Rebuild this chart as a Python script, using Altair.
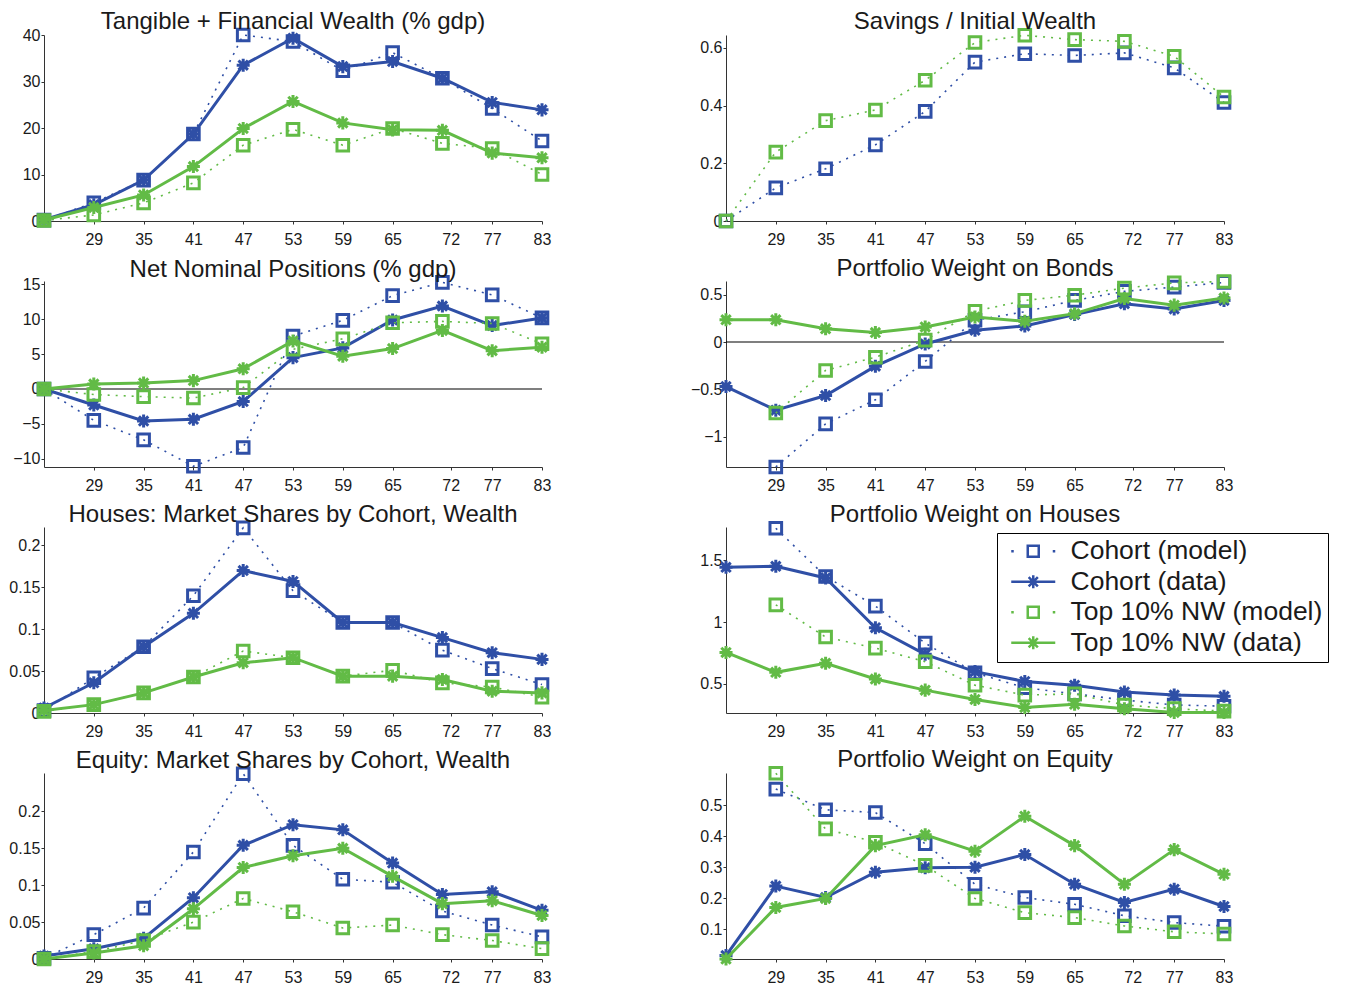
import altair as alt
import pandas as pd

# ---------------- data ----------------
AGES = [23, 29, 35, 41, 47, 53, 59, 65, 71, 77, 83]
X_TICKS = [29, 35, 41, 47, 53, 59, 65, 72, 77, 83]
SERIES = ["Cohort (model)", "Cohort (data)", "Top 10% NW (model)", "Top 10% NW (data)"]
COLORS = ["#2f4fa6", "#2f4fa6", "#62bb46", "#62bb46"]

# Tangible + Financial Wealth (% gdp)
W_COH_MODEL = [0.2, 3.9, 8.8, 18.7, 40.0, 38.6, 32.3, 36.2, 30.7, 24.2, 17.2]
W_COH_DATA = [0.3, 3.5, 8.8, 18.7, 33.5, 39.3, 33.2, 34.3, 30.7, 25.5, 23.9]
W_TOP_MODEL = [0.1, 1.3, 3.9, 8.2, 16.3, 19.7, 16.3, 19.9, 16.7, 15.6, 10.0]
W_TOP_DATA = [0.2, 2.9, 5.6, 11.7, 19.9, 25.7, 21.1, 19.6, 19.5, 14.6, 13.6]
W_TICKS = [0, 10, 20, 30, 40]

# Savings / Initial Wealth
S_COH_MODEL = [0.0, 0.115, 0.181, 0.264, 0.380, 0.551, 0.580, 0.574, 0.583, 0.531, 0.411]
S_TOP_MODEL = [0.0, 0.239, 0.348, 0.385, 0.488, 0.619, 0.644, 0.629, 0.623, 0.571, 0.430]
S_TICKS = [0, 0.2, 0.4, 0.6]

# Net Nominal Positions (% gdp)
N_COH_MODEL = [0.0, -4.5, -7.3, -11.1, -8.4, 7.6, 9.85, 13.4, 15.3, 13.5, 10.2]
N_COH_DATA = [0.0, -2.3, -4.6, -4.35, -1.8, 4.5, 5.9, 9.9, 11.9, 9.1, 10.2]
N_TOP_MODEL = [0.0, -0.8, -1.1, -1.3, 0.2, 5.7, 7.2, 9.5, 9.7, 9.4, 6.5]
N_TOP_DATA = [0.0, 0.7, 0.85, 1.2, 2.9, 6.9, 4.7, 5.8, 8.4, 5.5, 6.0]
N_TICKS = [-10, -5, 0, 5, 10, 15]

# Portfolio Weight on Bonds
B_COH_MODEL = [None, -1.32, -0.865, -0.61, -0.205, 0.23, 0.32, 0.44, 0.535, 0.58, 0.63]
B_COH_DATA = [-0.47, -0.72, -0.565, -0.255, -0.02, 0.125, 0.17, 0.29, 0.405, 0.35, 0.44]
B_TOP_MODEL = [None, -0.75, -0.3, -0.16, 0.02, 0.325, 0.44, 0.495, 0.57, 0.625, 0.64]
B_TOP_DATA = [0.235, 0.235, 0.14, 0.1, 0.16, 0.265, 0.22, 0.3, 0.46, 0.39, 0.465]
B_TICKS = [-1, -0.5, 0, 0.5]

# Houses: Market Shares by Cohort, Wealth
H_COH_MODEL = [0.003, 0.042, 0.079, 0.140, 0.221, 0.146, 0.108, 0.108, 0.075, 0.053, 0.034]
H_COH_DATA = [0.006, 0.036, 0.079, 0.119, 0.170, 0.157, 0.108, 0.108, 0.090, 0.072, 0.064]
H_TOP_MODEL = [0.002, 0.010, 0.024, 0.043, 0.074, 0.066, 0.044, 0.051, 0.036, 0.031, 0.019]
H_TOP_DATA = [0.003, 0.010, 0.024, 0.043, 0.060, 0.066, 0.044, 0.044, 0.040, 0.026, 0.024]
H_TICKS = [0, 0.05, 0.1, 0.15, 0.2]

# Portfolio Weight on Houses
HW_COH_MODEL = [None, 1.76, 1.37, 1.13, 0.83, 0.59, 0.47, 0.42, 0.37, 0.33, 0.32]
HW_COH_DATA = [1.444, 1.452, 1.358, 0.955, 0.74, 0.60, 0.52, 0.49, 0.435, 0.41, 0.40]
HW_TOP_MODEL = [None, 1.14, 0.88, 0.79, 0.68, 0.49, 0.41, 0.42, 0.33, 0.30, 0.28]
HW_TOP_DATA = [0.755, 0.594, 0.667, 0.54, 0.45, 0.375, 0.31, 0.335, 0.30, 0.27, 0.27]
HW_TICKS = [0.5, 1, 1.5]

# Equity: Market Shares by Cohort, Wealth
E_COH_MODEL = [0.001, 0.033, 0.069, 0.145, 0.251, 0.154, 0.108, 0.104, 0.065, 0.046, 0.030]
E_COH_DATA = [0.004, 0.014, 0.028, 0.083, 0.154, 0.182, 0.175, 0.130, 0.0875, 0.091, 0.066]
E_TOP_MODEL = [0.0, 0.010, 0.025, 0.050, 0.082, 0.064, 0.042, 0.046, 0.033, 0.025, 0.014]
E_TOP_DATA = [0.0, 0.008, 0.018, 0.068, 0.124, 0.140, 0.150, 0.112, 0.075, 0.079, 0.059]
E_TICKS = [0, 0.05, 0.1, 0.15, 0.2]

# Portfolio Weight on Equity
EW_COH_MODEL = [None, 0.553, 0.486, 0.477, 0.376, 0.245, 0.202, 0.18, 0.143, 0.121, 0.109]
EW_COH_DATA = [0.014, 0.239, 0.202, 0.284, 0.298, 0.30, 0.341, 0.245, 0.186, 0.229, 0.173]
EW_TOP_MODEL = [None, 0.604, 0.424, 0.381, 0.306, 0.199, 0.153, 0.137, 0.11, 0.091, 0.084]
EW_TOP_DATA = [0.003, 0.17, 0.199, 0.37, 0.405, 0.352, 0.465, 0.37, 0.245, 0.357, 0.277]
EW_TICKS = [0.1, 0.2, 0.3, 0.4, 0.5]

ZERO_LINE = [0]

# ---------------- panel definitions ----------------
PANELS = [
    ("Tangible + Financial Wealth (% gdp)", [W_COH_MODEL, W_COH_DATA, W_TOP_MODEL, W_TOP_DATA], W_TICKS, [0, 40], False),
    ("Savings / Initial Wealth", [S_COH_MODEL, None, S_TOP_MODEL, None], S_TICKS, [0, 0.645], False),
    ("Net Nominal Positions (% gdp)", [N_COH_MODEL, N_COH_DATA, N_TOP_MODEL, N_TOP_DATA], N_TICKS, [-11.2, 15.5], True),
    ("Portfolio Weight on Bonds", [B_COH_MODEL, B_COH_DATA, B_TOP_MODEL, B_TOP_DATA], B_TICKS, [-1.32, 0.645], True),
    ("Houses: Market Shares by Cohort, Wealth", [H_COH_MODEL, H_COH_DATA, H_TOP_MODEL, H_TOP_DATA], H_TICKS, [0, 0.222], False),
    ("Portfolio Weight on Houses", [HW_COH_MODEL, HW_COH_DATA, HW_TOP_MODEL, HW_TOP_DATA], HW_TICKS, [0.265, 1.77], False),
    ("Equity: Market Shares by Cohort, Wealth", [E_COH_MODEL, E_COH_DATA, E_TOP_MODEL, E_TOP_DATA], E_TICKS, [0, 0.252], False),
    ("Portfolio Weight on Equity", [EW_COH_MODEL, EW_COH_DATA, EW_TOP_MODEL, EW_TOP_DATA], EW_TICKS, [0.003, 0.605], False),
]

rows = []
for p, (title, series_vals, _, _, _) in enumerate(PANELS):
    for s, vals in zip(SERIES, series_vals):
        if vals is None:
            continue
        for a, v in zip(AGES, vals):
            if v is not None:
                rows.append({"panel": p, "age": a, "series": s, "value": v})
df = pd.DataFrame(rows)

STAR = "M -1 0 L 1 0 M 0 -1 L 0 1 M -0.72 -0.72 L 0.72 0.72 M -0.72 0.72 L 0.72 -0.72"
LEG_MODEL = ("M -0.4 0 L -0.15 0 M 3.75 0 L 4.0 0 "
             "M 1.25 -0.55 L 2.35 -0.55 L 2.35 0.55 L 1.25 0.55 Z")
LEG_DATA = ("M -0.4 0 L 4.0 0 M 1.8 -0.65 L 1.8 0.65 "
            "M 1.34 -0.46 L 2.26 0.46 M 1.34 0.46 L 2.26 -0.46")
LEG_SHAPES = [LEG_MODEL, LEG_DATA, LEG_MODEL, LEG_DATA]

FONT = "Liberation Sans"
W, H = 498, 186


def make_panel(p):
    title, series_vals, yticks, ydom, zero = PANELS[p]
    base = alt.Chart(df).transform_filter(alt.datum.panel == p)
    x = alt.X("age:Q", scale=alt.Scale(domain=[23, 83], nice=False, zero=False),
              axis=alt.Axis(values=X_TICKS, title=None, format="d", labelPadding=7))
    y = alt.Y("value:Q", scale=alt.Scale(domain=ydom, nice=False, zero=False),
              axis=alt.Axis(values=yticks, title=None, format="~r", labelPadding=1))
    layers = []
    if zero:
        layers.append(
            alt.Chart(pd.DataFrame({"value": ZERO_LINE}))
            .mark_rule(color="black", strokeWidth=1.1)
            .encode(y=y)
        )
    for s, col, vals in zip(SERIES, COLORS, series_vals):
        if vals is None:
            continue
        sub = base.transform_filter(alt.datum.series == s)
        if "model" in s:
            layers.append(sub.mark_line(color=col, strokeWidth=1.6, strokeDash=[2, 6]).encode(x=x, y=y))
            layers.append(sub.mark_point(shape="square", size=135, filled=False, color=col,
                                         strokeWidth=3, opacity=1).encode(x=x, y=y))
        else:
            layers.append(sub.mark_line(color=col, strokeWidth=3).encode(x=x, y=y))
            layers.append(sub.mark_point(shape=STAR, size=170, filled=False, color=col,
                                         strokeWidth=3, opacity=1).encode(x=x, y=y))
    if p == 5:
        leg = alt.Legend(title=None, orient="none", legendX=953, legendY=498,
                         strokeColor="black", fillColor="white", padding=5,
                         labelFontSize=26.5, labelFont=FONT, labelColor="#1a1a1a",
                         labelLimit=500, labelOffset=42, rowPadding=3.5,
                         labelExpr="datum.label + '\u00a0'",
                         symbolSize=400, symbolStrokeWidth=2.5)
        layers.append(
            base.transform_filter("false")
            .mark_point(filled=False, strokeWidth=2.5, size=400, opacity=1)
            .encode(
                color=alt.Color("series:N", scale=alt.Scale(domain=SERIES, range=COLORS), legend=leg),
                shape=alt.Shape("series:N", scale=alt.Scale(domain=SERIES, range=LEG_SHAPES), legend=leg),
            )
        )
    return alt.layer(*layers).properties(
        width=W, height=H,
        title=alt.TitleParams(title, fontSize=24, font=FONT, fontWeight="normal",
                              color="#1a1a1a", anchor="middle", frame="group", offset=0, dy=11),
    )


chart = (
    alt.concat(*[make_panel(i) for i in range(8)], columns=2,
               spacing={"row": 60, "column": 184}, bounds="flush")
    .properties(padding={"left": 0, "top": 2, "right": 5, "bottom": 0})
    .configure_view(stroke=None)
    .configure_axis(domainColor="#333333", tickColor="#333333", labelColor="#1a1a1a",
                    labelFont=FONT, labelFontSize=16, tickSize=3, grid=False,
                    labelFlush=False, labelOverlap=False)
)

chart.save("out.html", embed_options={"renderer": "svg", "actions": False})
